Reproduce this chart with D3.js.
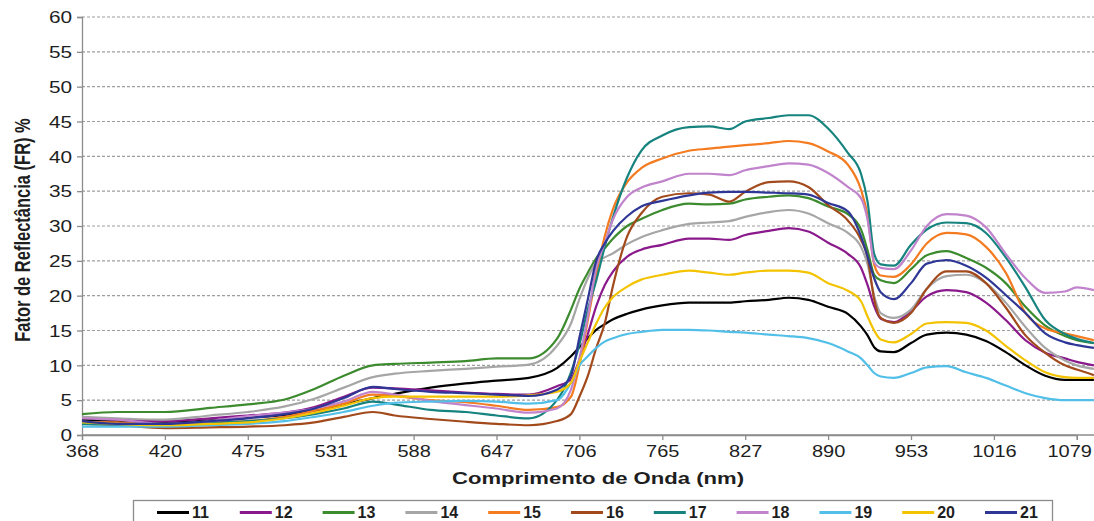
<!DOCTYPE html>
<html>
<head>
<meta charset="utf-8">
<script src="https://cdn.jsdelivr.net/npm/d3@7"></script>
<style>
  html, body { margin: 0; padding: 0; background: #fff; }
  svg { display: block; font-family: "Liberation Sans", Arial, sans-serif; }
</style>
</head>
<body>
<svg id="chart" width="1094" height="521"></svg>
<script>
// Category tick labels on the wavelength axis (nm)
const xTickLabels = [368, 420, 475, 531, 588, 647, 706, 765, 827, 890, 953, 1016, 1079];
const yTicks = [0, 5, 10, 15, 20, 25, 30, 35, 40, 45, 50, 55, 60];

// Sampled wavelengths (nm)
const wavelengths = [368,390,420,450,475,500,520,540,560,575,600,625,647,670,690,700,706,712,718,724,730,740,750,765,785,800,815,827,845,860,875,890,905,915,920,925,930,940,953,965,980,995,1010,1025,1040,1055,1070,1079,1092];

// Reflectance factor (%) per sample
const s11 = [2.2,2.0,1.8,2.1,2.5, 2.9,3.5,4.4,5.3,5.9, 6.8,7.4,7.8,8.2,9.6, 11.3,12.6,13.9,15.1,15.9, 16.6,17.4,18.0,18.6,19.0, 19.0,19.0,19.2,19.4,19.7, 19.4,18.4,17.4,15.6,14.3, 12.6,12.0,11.9,13.2,14.4, 14.7,14.4,13.5,11.9,10.0, 8.5,7.9,7.9,7.9];
const s12 = [2.5,2.2,2.0,2.4,2.8, 3.2,4.0,5.5,6.8,6.7, 6.4,6.1,5.9,5.8,7.0, 8.0,10.8,14.5,18.5,21.5, 23.5,25.6,26.6,27.3,28.2, 28.2,28.0,28.7,29.3,29.7, 29.2,27.6,26.0,24.0,21.5, 18.5,16.7,16.2,17.8,19.9, 20.8,20.5,19.0,16.5,13.6, 11.8,11.0,10.5,10.0];
const s13 = [3.0,3.3,3.3,3.9,4.4, 5.1,6.6,8.5,10.0,10.2, 10.4,10.6,11.0,11.0,13.8, 18.0,21.0,23.3,25.4,26.8, 28.2,30.0,31.0,32.3,33.2, 33.1,33.2,33.8,34.2,34.4, 34.0,32.8,31.7,29.5,26.5, 23.0,22.2,21.8,23.8,25.8, 26.4,25.4,24.0,21.8,18.4, 15.7,14.2,13.6,13.2];
const s14 = [2.6,2.4,2.2,2.8,3.3, 4.1,5.2,6.8,8.3,8.8, 9.2,9.5,9.8,10.1,12.8, 16.0,19.5,22.5,24.8,25.5, 26.1,27.4,28.4,29.4,30.3, 30.5,30.7,31.3,32.0,32.3, 31.8,30.4,29.0,27.0,24.5, 20.0,17.5,16.8,18.0,21.0, 22.8,23.0,21.8,19.0,15.5, 12.5,10.7,10.0,9.5];
const s15 = [1.9,1.8,1.5,1.8,2.0, 2.6,3.5,4.5,5.8,5.6, 5.0,4.7,4.2,3.6,4.0, 5.5,10.0,16.5,23.0,28.5, 32.5,36.3,38.3,39.7,40.8, 41.1,41.4,41.6,41.9,42.2, 41.9,40.7,38.8,35.2,31.5, 24.5,22.9,22.7,24.5,27.5, 29.0,28.8,27.0,23.3,17.5, 15.3,14.6,14.2,13.6];
const s16 = [1.6,1.4,1.0,1.1,1.2, 1.4,1.8,2.6,3.3,2.8, 2.3,1.9,1.6,1.4,2.0, 3.0,5.5,8.5,12.5,16.0, 21.5,28.5,31.8,34.2,34.7, 34.5,33.5,34.9,36.3,36.4, 35.6,33.0,30.8,28.0,25.5, 19.5,16.8,16.1,17.5,21.0, 23.5,23.5,21.8,18.3,14.3, 11.8,10.0,9.4,8.6];
const s17 = [1.6,1.5,1.4,1.7,2.0, 2.4,3.0,3.8,4.8,4.4, 3.6,3.3,2.8,2.4,5.0, 9.0,13.0,18.0,22.2,27.0, 31.3,37.0,40.8,43.0,44.2, 44.3,43.9,45.0,45.5,45.9, 45.9,44.0,40.5,37.5,33.5, 26.0,24.5,24.3,27.3,29.5, 30.5,30.4,29.0,25.5,21.2, 16.5,14.5,13.8,13.2];
const s18 = [2.4,2.2,1.6,2.0,2.7, 3.2,3.8,4.8,6.2,5.8, 4.9,4.3,3.8,3.2,3.8, 6.5,11.0,17.0,24.0,27.5, 31.0,34.2,35.5,36.4,37.5, 37.5,37.3,38.0,38.6,39.0, 38.8,37.6,35.6,34.0,30.9, 24.8,24.0,23.8,26.5,30.0, 31.7,31.5,29.8,26.0,22.5, 20.4,20.6,21.2,20.8];
const s19 = [1.2,1.2,1.2,1.4,1.6, 2.0,2.6,3.3,4.2,4.6, 4.8,4.9,4.8,4.5,5.0, 7.5,10.0,11.3,12.5,13.4, 13.9,14.5,14.8,15.1,15.1, 15.0,14.8,14.7,14.4,14.2, 13.9,13.2,12.0,11.0,10.0, 8.9,8.4,8.2,8.9,9.7, 9.9,9.0,8.2,7.1,6.0, 5.3,5.0,5.0,5.0];
const s20 = [1.8,1.6,1.4,1.6,1.8, 2.4,3.2,4.2,5.3,5.5, 5.5,5.5,5.5,5.7,6.2, 7.5,10.5,13.3,16.0,18.3, 19.8,21.3,22.3,23.0,23.6, 23.3,23.0,23.3,23.6,23.6, 23.3,21.8,20.7,19.2,17.0, 15.0,13.7,13.3,14.5,16.0, 16.2,16.1,15.0,12.8,10.7, 9.0,8.3,8.2,8.2];
const s21 = [2.0,1.6,1.6,2.0,2.4, 3.0,3.8,5.3,6.9,6.6, 6.2,6.0,5.8,5.6,6.5, 8.5,14.0,19.5,25.0,27.5, 29.3,31.4,32.8,33.6,34.4, 34.8,34.9,34.9,34.8,34.7, 34.5,33.3,32.1,28.5,25.6, 22.5,20.5,19.5,21.8,24.6, 25.1,24.3,22.6,20.1,17.5, 14.6,13.3,12.9,12.5];

const seriesNames = ["11","12","13","14","15","16","17","18","19","20","21"];
const seriesValues = [s11,s12,s13,s14,s15,s16,s17,s18,s19,s20,s21];
const seriesColors = ["#000000","#8a1a8c","#3d8b2f","#a6a6a6","#f47b20","#a24a1c","#16837f","#c184cc","#52bfe8","#f3c300","#2e3796"];

const svg = d3.select("#chart");
const W = 1094;
const plotLeft = 82, plotTop = 17, plotBottom = 435;
const step = 82.9;
const stretch = 1.25;          // wide lettering of the axis texts
const axisGrey = "#8c8c8c";
const textColor = "#1e1e1e";

// Category-style axis: tick labels evenly spaced, wavelengths mapped piecewise between them
const x = d3.scaleLinear()
  .domain(xTickLabels)
  .range(xTickLabels.map((d, i) => plotLeft + i * step));
const y = d3.scaleLinear().domain([0, 60]).range([plotBottom, plotTop]);

// Horizontal dashed gridlines
svg.append("g").selectAll("line")
  .data(yTicks.filter(d => d > 0))
  .join("line")
  .attr("x1", plotLeft).attr("x2", W)
  .attr("y1", d => y(d)).attr("y2", d => y(d))
  .attr("stroke", "#9d9d9d")
  .attr("stroke-width", 1.2)
  .attr("stroke-dasharray", "3,2");

// Y axis
const yAxis = d3.axisLeft(y).tickValues(yTicks).tickSize(5).tickPadding(5);
const gy = svg.append("g").attr("transform", `translate(${plotLeft},0)`).call(yAxis);
gy.select(".domain").attr("stroke", axisGrey).attr("stroke-width", 1.3);
gy.selectAll(".tick line").attr("stroke", axisGrey).attr("stroke-width", 1.3);
gy.selectAll(".tick text")
  .attr("font-size", 16).attr("fill", textColor)
  .attr("font-family", "Liberation Sans, Arial, sans-serif")
  .attr("x", -10 / 1.3).attr("dy", "0.36em")
  .attr("transform", "scale(1.3,1)");

// X axis
const xAxis = d3.axisBottom(x).tickValues(xTickLabels).tickFormat(d3.format("d")).tickSize(5).tickPadding(6);
const gx = svg.append("g").attr("transform", `translate(0,${plotBottom})`).call(xAxis);
gx.select(".domain").attr("stroke", axisGrey).attr("stroke-width", 1.3);
gx.selectAll(".tick line").attr("stroke", axisGrey).attr("stroke-width", 1.3);
gx.selectAll(".tick text")
  .attr("font-size", 16).attr("fill", textColor)
  .attr("font-family", "Liberation Sans, Arial, sans-serif")
  .attr("transform", `scale(${stretch},1)`);
// keep the last label inside the drawing
gx.selectAll(".tick").each(function() {
  const t = d3.select(this).select("text");
  const box = this.getBoundingClientRect();
  const tb = t.node().getBoundingClientRect();
  const over = tb.right - (W - 2);
  if (over > 0) t.attr("x", -over / stretch);
});
// extend the x axis line to the right edge
svg.append("line").attr("x1", plotLeft).attr("x2", W).attr("y1", plotBottom).attr("y2", plotBottom)
  .attr("stroke", axisGrey).attr("stroke-width", 1.3);

// Clip for the spectra
svg.append("defs").append("clipPath").attr("id", "plotClip")
  .append("rect").attr("x", plotLeft).attr("y", 0).attr("width", W - plotLeft).attr("height", plotBottom + 2);

const line = d3.line()
  .x((d, i) => x(wavelengths[i]))
  .y(d => y(d))
  .curve(d3.curveMonotoneX);

svg.append("g").attr("clip-path", "url(#plotClip)")
  .selectAll("path")
  .data(seriesValues)
  .join("path")
  .attr("d", d => line(d))
  .attr("fill", "none")
  .attr("stroke", (d, i) => seriesColors[i])
  .attr("stroke-width", 2.2)
  .attr("stroke-linejoin", "round");

// Axis titles
svg.append("text")
  .attr("transform", `translate(30,${(plotTop + plotBottom) / 2 + 4}) scale(1.3,1) rotate(-90)`)
  .attr("text-anchor", "middle")
  .attr("font-size", 16.5).attr("font-weight", "bold").attr("fill", textColor)
  .text("Fator de Reflectância (FR) %");

svg.append("text")
  .attr("transform", `translate(598,484) scale(1.3,1)`)
  .attr("text-anchor", "middle")
  .attr("font-size", 17).attr("font-weight", "bold").attr("fill", textColor)
  .text("Comprimento de Onda (nm)");

// Legend
const legend = svg.append("g");
legend.append("rect")
  .attr("x", 133.5).attr("y", 500.5).attr("width", 919).attr("height", 30)
  .attr("fill", "#fff").attr("stroke", axisGrey).attr("stroke-width", 1.3);
const items = legend.selectAll("g.item")
  .data(seriesNames)
  .join("g").attr("class", "item")
  .attr("transform", (d, i) => `translate(${157 + i * 82.8},0)`);
items.append("line")
  .attr("x1", 0).attr("x2", 32).attr("y1", 512.5).attr("y2", 512.5)
  .attr("stroke", (d, i) => seriesColors[i]).attr("stroke-width", 3);
items.append("text")
  .attr("x", 35).attr("y", 518)
  .attr("font-size", 16).attr("font-weight", "bold").attr("fill", textColor)
  .text(d => d);
</script>
</body>
</html>
